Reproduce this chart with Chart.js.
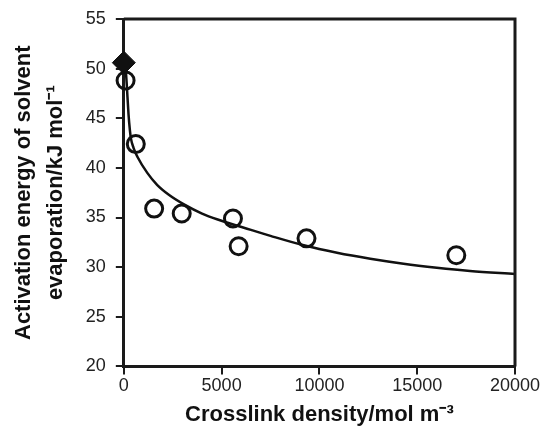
<!DOCTYPE html>
<html>
<head>
<meta charset="utf-8">
<script src="https://cdn.jsdelivr.net/npm/chart.js@4.4.0/dist/chart.umd.min.js"></script>
<style>
  html, body { margin: 0; padding: 0; background: #fff; }
  #wrap { width: 544px; height: 428px; }
</style>
</head>
<body>
<div id="wrap"><canvas id="chart" width="544" height="428"></canvas></div>
<script>
// measured points (open circles)
const crosslinkDensity = [90, 612, 1550, 2960, 5580, 5870, 9340, 17000];
const activationEnergy = [48.8, 42.4, 35.9, 35.4, 34.9, 32.1, 32.9, 31.2];

// filled diamond at zero crosslink density
const zeroX = [0];
const zeroY = [50.6];

// fitted curve
const fitX = [110, 150, 240, 310, 360, 500, 700, 1200, 1700, 2300, 3100, 4000, 4800, 6500, 7500, 9200, 10900, 12600, 14300, 16000, 17700, 20000];
const fitY = [49.6, 48.4, 45.4, 43.8, 43.0, 42.0, 41.1, 39.5, 38.3, 37.3, 36.3, 35.4, 34.8, 33.75, 33.15, 32.2, 31.45, 30.85, 30.35, 29.95, 29.62, 29.3];

const xTicks = [0, 5000, 10000, 15000, 20000];
const yTicks = [20, 25, 30, 35, 40, 45, 50, 55];

const toPoints = (xs, ys) => xs.map((x, i) => ({ x: x, y: ys[i] }));

// draws the top and right edges of the plot box
const frame = {
    id: 'frame',
    afterDatasetsDraw(chart) {
        const { ctx, chartArea: a } = chart;
        ctx.save();
        ctx.strokeStyle = '#1a1a1a';
        ctx.lineWidth = 3;
        ctx.beginPath();
        ctx.moveTo(a.left, a.top);
        ctx.lineTo(a.right, a.top);
        ctx.lineTo(a.right, a.bottom);
        ctx.stroke();
        ctx.restore();
    }
};

new Chart(document.getElementById('chart'), {
    type: 'scatter',
    data: {
        datasets: [
            {
                type: 'line',
                data: toPoints(fitX, fitY),
                borderColor: '#111',
                borderWidth: 2.5,
                pointRadius: 0,
                cubicInterpolationMode: 'monotone',
                fill: false,
                clip: false
            },
            {
                data: toPoints(crosslinkDensity, activationEnergy),
                pointStyle: 'circle',
                pointRadius: 8.5,
                pointBorderWidth: 3,
                borderColor: '#111',
                backgroundColor: 'rgba(0,0,0,0)',
                clip: false
            },
            {
                data: toPoints(zeroX, zeroY),
                pointStyle: 'rectRot',
                pointRadius: 11.5,
                pointBorderWidth: 1,
                borderColor: '#111',
                backgroundColor: '#111',
                clip: false
            }
        ]
    },
    options: {
        responsive: false,
        animation: false,
        layout: { padding: { left: 8, top: 5, right: 29, bottom: 2 } },
        plugins: {
            legend: { display: false },
            tooltip: { enabled: false }
        },
        scales: {
            x: {
                type: 'linear',
                min: 0,
                max: 20000,
                afterBuildTicks: axis => { axis.ticks = xTicks.map(v => ({ value: v })); },
                border: { display: true, color: '#1a1a1a', width: 3 },
                grid: { drawOnChartArea: false, color: '#1a1a1a', lineWidth: 2, tickLength: 8 },
                ticks: {
                    color: '#222',
                    font: { family: 'Liberation Sans', size: 18 },
                    padding: 1,
                    maxRotation: 0,
                    callback: v => String(v)
                },
                title: {
                    display: true,
                    text: 'Crosslink density/mol m\u207B\u00B3',
                    color: '#111',
                    font: { family: 'Liberation Sans', size: 22, weight: 'bold', lineHeight: 1.0 },
                    padding: { top: 6, bottom: 0 }
                }
            },
            y: {
                type: 'linear',
                min: 20,
                max: 55,
                afterBuildTicks: axis => { axis.ticks = yTicks.map(v => ({ value: v })); },
                border: { display: true, color: '#1a1a1a', width: 3 },
                grid: { drawOnChartArea: false, color: '#1a1a1a', lineWidth: 2, tickLength: 8 },
                ticks: {
                    color: '#222',
                    font: { family: 'Liberation Sans', size: 18, lineHeight: 1.0 },
                    padding: 10,
                    callback: v => String(v)
                },
                title: {
                    display: true,
                    text: ['Activation energy of solvent', 'evaporation/kJ mol\u207B\u00B9'],
                    color: '#111',
                    font: { family: 'Liberation Sans', size: 22, weight: 'bold', lineHeight: 1.45 },
                    padding: { top: 0, bottom: 4 }
                }
            }
        }
    },
    plugins: [frame]
});
</script>
</body>
</html>
